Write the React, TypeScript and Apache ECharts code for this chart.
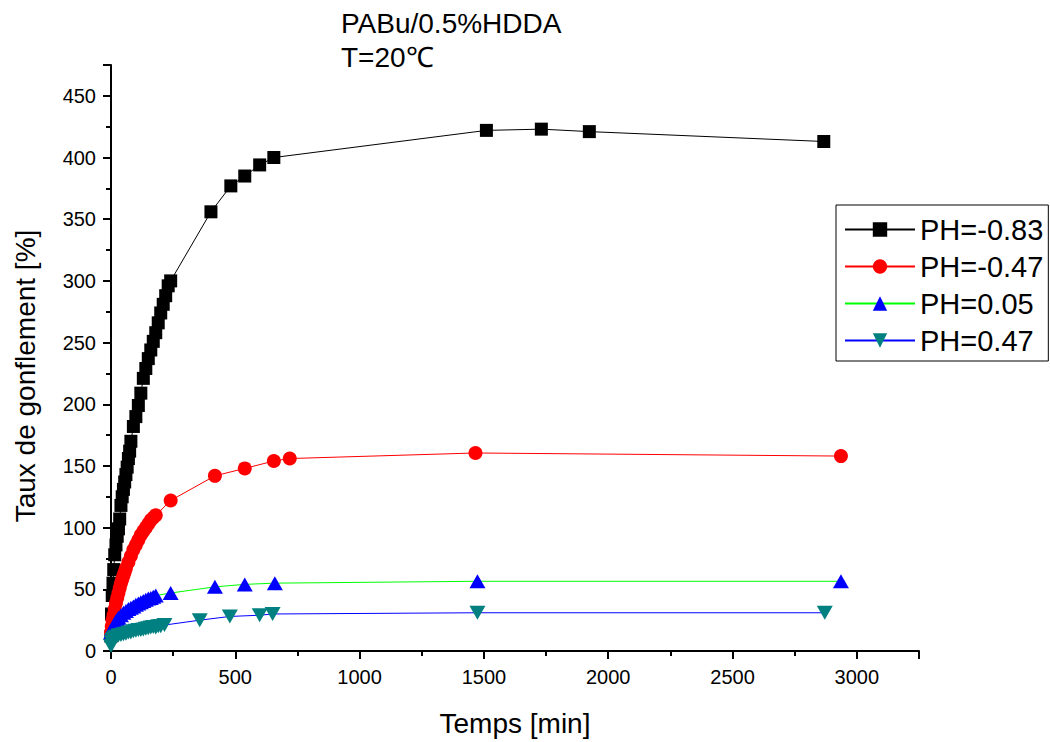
import React, { useEffect, useRef } from "react";
import * as echarts from "echarts";

const titleLines = ["PABu/0.5%HDDA", "T=20℃"];
const xAxisName = "Temps [min]";
const yAxisName = "Taux de gonflement [%]";
const seriesNames = ["PH=-0.83", "PH=-0.47", "PH=0.05", "PH=0.47"];

const blackTime = [0, 2, 5, 8, 11, 15, 20, 25, 30, 35, 40, 45, 50, 55, 60, 65, 70, 75, 80, 90, 100, 110, 120, 130, 140, 150, 160, 170, 180, 190, 200, 210, 220, 230, 240, 402, 482, 538, 598, 655, 1510, 1731, 1924, 2867];
const blackVal = [12, 30, 45, 55, 66, 78, 86, 93, 99, 107, 118, 125, 131, 137, 143, 149, 156, 162, 170, 182, 190, 199, 209, 221, 229, 237, 244, 251, 258, 266, 274, 281, 288, 296, 300, 356, 377, 385, 394, 400, 422, 423, 421, 413];

const redTime = [0, 3, 6, 10, 15, 20, 25, 30, 35, 40, 45, 50, 55, 60, 70, 80, 90, 100, 110, 120, 130, 140, 150, 160, 170, 180, 240, 418, 538, 655, 719, 1466, 2936];
const redVal = [15, 20, 25, 29, 34, 39, 43, 47, 51, 55, 58, 61, 64, 67, 72, 77, 82, 86, 90, 94, 97, 100, 103, 106, 108, 110, 122, 142, 148, 154, 156, 160.5, 158];

const blueTime = [0, 5, 10, 15, 20, 25, 30, 40, 50, 60, 70, 80, 90, 100, 110, 120, 130, 140, 150, 160, 170, 180, 240, 418, 538, 659, 1474, 2936];
const blueVal = [15, 18, 20, 22, 24, 25.5, 27, 29, 31, 32.5, 34, 35, 36, 37.5, 38.5, 39.5, 40.5, 41.5, 42.5, 43, 44, 45, 47, 52, 54, 55, 56.5, 56.5];

const tealTime = [0, 3, 6, 10, 15, 20, 30, 40, 50, 60, 70, 80, 90, 100, 110, 120, 130, 140, 150, 160, 170, 180, 190, 200, 215, 357, 478, 598, 650, 1474, 2871];
const tealVal = [4, 7, 9, 10, 11, 11.5, 12.5, 13, 13.5, 14, 15, 15, 16, 16.5, 17, 17, 17.5, 18, 18.5, 19, 19.5, 19, 20, 20, 21, 25, 28, 29, 30, 31, 31];

const xMin = 0, xMax = 3250, xStep = 500;
const yMin = 0, yMax = 475, yStep = 50;

const pairs = (t: number[], v: number[]) => t.map((x, i) => [x, v[i]]);

export default function App() {
  const ref = useRef<HTMLDivElement>(null);
  useEffect(() => {
    document.body.style.margin = "0";
    const chart = echarts.init(ref.current!, null, { renderer: "svg" });
    const font = "'Liberation Sans', Arial, sans-serif";
    const axisCommon = {
      type: "value",
      nameLocation: "middle",
      nameTextStyle: { fontSize: 28, color: "#000", fontFamily: font },
      axisLine: { show: true, onZero: false, lineStyle: { color: "#000", width: 2 } },
      axisTick: { show: true, length: 8, lineStyle: { color: "#000", width: 2 } },
      minorTick: { show: true, splitNumber: 2, length: 5, lineStyle: { color: "#000", width: 2 } },
      axisLabel: {
        fontSize: 20,
        color: "#000",
        fontFamily: font,
        showMaxLabel: false,
        formatter: (v: number) => String(v),
      },
      splitLine: { show: false },
      minorSplitLine: { show: false },
    };
    chart.setOption({
      animation: false,
      backgroundColor: "#fff",
      textStyle: { fontFamily: font },
      title: {
        text: titleLines.join("\n"),
        left: 341,
        top: 6,
        padding: 0,
        textStyle: { fontSize: 28, fontWeight: "normal", color: "#000", lineHeight: 34, fontFamily: font },
      },
      grid: { left: 111, top: 65, right: 131, bottom: 84 },
      legend: {
        orient: "vertical",
        left: 836,
        top: 205,
        itemWidth: 70,
        itemHeight: 18,
        itemGap: 8,
        borderColor: "#000",
        borderWidth: 1,
        borderRadius: 0,
        padding: [10, 5, 6, 8],
        textStyle: { fontSize: 29, color: "#000", fontFamily: font },
        data: seriesNames,
      },
      xAxis: {
        ...axisCommon,
        min: xMin,
        max: xMax,
        interval: xStep,
        name: xAxisName,
        nameGap: 58,
        axisLabel: { ...axisCommon.axisLabel, margin: 16 },
      },
      yAxis: {
        ...axisCommon,
        min: yMin,
        max: yMax,
        interval: yStep,
        name: yAxisName,
        nameGap: 72,
        nameTextStyle: { ...axisCommon.nameTextStyle, padding: [0, 36, 0, 0] },
        axisLabel: { ...axisCommon.axisLabel, margin: 15 },
      },
      series: [
        {
          name: seriesNames[0],
          type: "line",
          data: pairs(blackTime, blackVal),
          symbol: "rect",
          symbolSize: 13,
          clip: false,
          itemStyle: { color: "#000" },
          lineStyle: { color: "#000", width: 1 },
        },
        {
          name: seriesNames[1],
          type: "line",
          data: pairs(redTime, redVal),
          symbol: "circle",
          symbolSize: 14,
          clip: false,
          itemStyle: { color: "#ff0000" },
          lineStyle: { color: "#ff0000", width: 1 },
        },
        {
          name: seriesNames[2],
          type: "line",
          data: pairs(blueTime, blueVal),
          symbol: "triangle",
          symbolSize: [16, 14],
          clip: false,
          itemStyle: { color: "#0000ff" },
          lineStyle: { color: "#00ff00", width: 1 },
        },
        {
          name: seriesNames[3],
          type: "line",
          data: pairs(tealTime, tealVal),
          symbol: "triangle",
          symbolRotate: 180,
          symbolSize: [16, 14],
          clip: false,
          itemStyle: { color: "#008080" },
          lineStyle: { color: "#0000ff", width: 1 },
        },
      ],
    });
    return () => chart.dispose();
  }, []);
  return <div ref={ref} style={{ width: 1050, height: 742 }} />;
}
